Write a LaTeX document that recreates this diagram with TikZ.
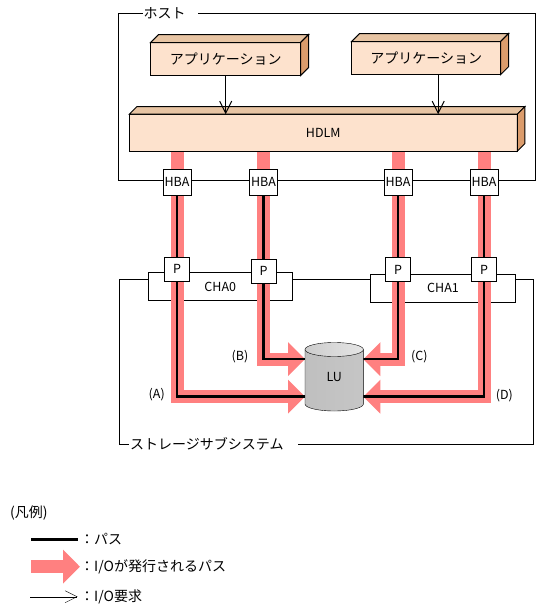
\documentclass[tikz,border=0pt]{standalone}
\usepackage{fontspec}
\setmainfont{Noto Sans CJK JP}
\usetikzlibrary{arrows.meta}
\pgfdeclarelayer{bg}
\pgfdeclarelayer{pipes}
\pgfsetlayers{bg,pipes,main}
\definecolor{pipecol}{RGB}{255,128,128}
\definecolor{frontcol}{RGB}{253,226,205}
\definecolor{topcol}{RGB}{231,196,163}
\definecolor{sidecol}{RGB}{219,156,108}
\newcommand\boxsides[2]{%
  \filldraw[fill=topcol] (#1.north west) -- ++(#2,-#2) -- ([shift={(#2,-#2)}]#1.north east) -- (#1.north east) -- cycle;
  \filldraw[fill=sidecol] (#1.north east) -- ++(#2,-#2) -- ([shift={(#2,-#2)}]#1.south east) -- (#1.south east) -- cycle;}
\begin{document}
\begin{tikzpicture}[x=1pt, y=-1pt, line width=1pt,
  jp/.style={font=\fontsize{14}{16}\selectfont, inner sep=0pt},
  lat/.style={font=\fontsize{12.5}{14}\selectfont},
  block/.style={draw, fill=frontcol, inner sep=0pt, outer sep=0pt},
  port/.style={draw, fill=white, inner sep=0pt, outer sep=0pt, lat},
  iopipe/.style={draw=pipecol, line width=13pt, -{Triangle[length=17pt,width=33pt]}},
  bpath/.style={line width=2.5pt},
  req/.style={-{Straight Barb[length=12pt,width=12pt]}}]
\useasboundingbox (0,0) rectangle (541,613);
\draw (118.5,13.5) rectangle (535,180);
\node[jp, fill=white, anchor=west, text width=53pt, inner xsep=1pt] (hostlbl) at (142,13.5) {ホスト};
\node[block, jp, minimum width=150pt, minimum height=33pt] (app1) at (225.7,59) {アプリケーション};
\node[block, jp, minimum width=149pt, minimum height=33pt] (app2) at (426.2,58) {アプリケーション};
\node[block, lat, minimum width=388pt, minimum height=37pt] (hdlm) at (323.3,132.7) {HDLM};
\boxsides{app1}{8}
\boxsides{app2}{8}
\boxsides{hdlm}{7.5}
\draw[req] (app1.south) -- (app1.south |- hdlm.north);
\draw[req] ([xshift=12pt]app2.south) -- ([xshift=12pt]app2.south |- hdlm.north);
\begin{pgfonlayer}{bg}
\draw (119.5,279) rectangle (533.5,444);
\node[jp, fill=white, anchor=west, text width=167pt, inner xsep=1pt] (stlbl) at (129,444) {ストレージサブシステム};
\node[port, minimum width=144pt, minimum height=28pt] (cha0) at (220.3,286.5) {CHA0};
\node[port, minimum width=145pt, minimum height=28pt] (cha1) at (443,288.3) {CHA1};
\end{pgfonlayer}
\node[port, minimum width=28pt, minimum height=26pt] (hba1) at (177,182) {HBA};
\node[port, minimum width=28pt, minimum height=26pt] (hba2) at (263.5,182) {HBA};
\node[port, minimum width=28pt, minimum height=26pt] (hba3) at (398,182) {HBA};
\node[port, minimum width=28pt, minimum height=26pt] (hba4) at (484,182) {HBA};
\node[port, minimum width=25pt, minimum height=24pt] (p1) at (177,269) {P};
\node[port, minimum width=25pt, minimum height=24pt] (p2) at (263.5,271) {P};
\node[port, minimum width=25pt, minimum height=24pt] (p3) at (398,269.5) {P};
\node[port, minimum width=25pt, minimum height=24pt] (p4) at (484,269.5) {P};
\shadedraw[left color=gray!50, middle color=gray!6, right color=gray!45] (305,349.5) -- (305,404) arc[start angle=180, end angle=0, x radius=29.2, y radius=7] -- (363.4,349.5) -- cycle;
\shadedraw[left color=gray!40, right color=gray!20] (334.2,349.5) ellipse [x radius=29.2, y radius=7];
\node[lat, minimum width=58.4pt, minimum height=68.5pt, outer sep=0pt] (lu) at (334.2,376.7) {LU};
\begin{pgfonlayer}{pipes}
\draw[iopipe] (hdlm.south -| hba1) |- ([yshift=-20pt]lu.west);
\draw[iopipe] (hdlm.south -| hba2) |- ([yshift=17.5pt]lu.west);
\draw[iopipe] (hdlm.south -| hba3) |- ([yshift=17.5pt]lu.east);
\draw[iopipe] (hdlm.south -| hba4) |- ([yshift=-20pt]lu.east);
\draw[bpath] (hba1.south) |- ([yshift=-20pt]lu.west);
\draw[bpath] (hba2.south) |- ([yshift=17.5pt]lu.west);
\draw[bpath] (hba3.south) |- ([yshift=17.5pt]lu.east);
\draw[bpath] (hba4.south) |- ([yshift=-20pt]lu.east);
\end{pgfonlayer}
\node[lat] (lblA) at (156.7,395) {(A)};
\node[lat] (lblB) at (240,356.7) {(B)};
\node[lat] (lblC) at (419.3,356.7) {(C)};
\node[lat] (lblD) at (504.3,396) {(D)};
\node[jp, anchor=west] (legend) at (10,512.7) {(凡例)};
\coordinate (l1a) at (31,539.5);
\coordinate (l1b) at (78,539.5);
\coordinate (l2a) at (31,566.7);
\coordinate (l2b) at (80,566.7);
\coordinate (l3a) at (30,596.7);
\coordinate (l3b) at (77.5,596.7);
\draw[bpath] (l1a) -- (l1b);
\draw[iopipe] (l2a) -- (l2b);
\draw[req] (l3a) -- (l3b);
\node[jp, anchor=west] (t1) at (80,539.5) {：パス};
\node[jp, anchor=west] (t2) at (80,566.7) {：I/Oが発行されるパス};
\node[jp, anchor=west] (t3) at (80,596.7) {：I/O要求};
\end{tikzpicture}
\end{document}
